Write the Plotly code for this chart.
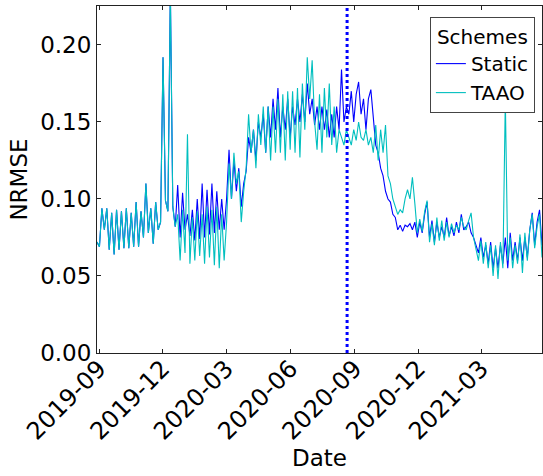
import pandas as pd
import plotly.graph_objects as go

# ---- data (semi-weekly samples) ----
start_date = "2019-08-29"
sample_step = "84h"  # 3.5 days
static_vals = [
    0.072, 0.069, 0.094, 0.080, 0.094, 0.067, 0.091, 0.064, 0.093, 0.067,
    0.092, 0.068, 0.094, 0.068, 0.091, 0.069, 0.098, 0.069, 0.092, 0.075,
    0.110, 0.078, 0.094, 0.071, 0.098, 0.080, 0.085, 0.192, 0.099, 0.092,
    0.235, 0.095, 0.082, 0.109, 0.075, 0.104, 0.080, 0.090, 0.076, 0.093,
    0.073, 0.100, 0.074, 0.110, 0.075, 0.106, 0.077, 0.110, 0.078, 0.105,
    0.080, 0.100, 0.080, 0.100, 0.132, 0.100, 0.125, 0.105, 0.120, 0.095,
    0.110, 0.118, 0.140, 0.130, 0.145, 0.125, 0.150, 0.140, 0.155, 0.130,
    0.160, 0.140, 0.165, 0.145, 0.172, 0.140, 0.160, 0.145, 0.165, 0.140,
    0.160, 0.148, 0.165, 0.150, 0.168, 0.150, 0.175, 0.155, 0.165, 0.148,
    0.160, 0.145, 0.160, 0.145, 0.158, 0.140, 0.155, 0.140, 0.160, 0.145,
    0.184, 0.150, 0.160, 0.155, 0.170, 0.150, 0.168, 0.176, 0.155, 0.165,
    0.145, 0.165, 0.171, 0.155, 0.135, 0.130, 0.120, 0.115, 0.105, 0.100,
    0.098, 0.090, 0.088, 0.080, 0.083, 0.079, 0.083, 0.082, 0.084, 0.080,
    0.085, 0.075, 0.085, 0.078, 0.090, 0.098, 0.075, 0.086, 0.072, 0.085,
    0.075, 0.082, 0.075, 0.088, 0.076, 0.082, 0.076, 0.085, 0.078, 0.090,
    0.080, 0.082, 0.085, 0.078, 0.075, 0.070, 0.065, 0.075, 0.062, 0.070,
    0.058, 0.072, 0.055, 0.068, 0.055, 0.070, 0.058, 0.075, 0.055, 0.078,
    0.060, 0.072, 0.060, 0.075, 0.060, 0.075, 0.062, 0.080, 0.091, 0.070,
    0.085, 0.093, 0.070,
]
taao_vals = [
    0.072, 0.069, 0.094, 0.080, 0.094, 0.067, 0.091, 0.064, 0.093, 0.067,
    0.092, 0.068, 0.094, 0.068, 0.091, 0.069, 0.098, 0.069, 0.092, 0.075,
    0.110, 0.078, 0.094, 0.071, 0.098, 0.080, 0.085, 0.192, 0.099, 0.092,
    0.235, 0.095, 0.082, 0.090, 0.060, 0.093, 0.065, 0.142, 0.058, 0.088,
    0.060, 0.092, 0.063, 0.090, 0.058, 0.095, 0.062, 0.093, 0.057, 0.095,
    0.055, 0.090, 0.060, 0.085, 0.123, 0.100, 0.130, 0.110, 0.118, 0.085,
    0.105, 0.120, 0.155, 0.130, 0.145, 0.120, 0.155, 0.135, 0.160, 0.130,
    0.160, 0.125, 0.160, 0.130, 0.165, 0.130, 0.168, 0.125, 0.170, 0.132,
    0.170, 0.130, 0.172, 0.127, 0.175, 0.145, 0.192, 0.165, 0.190, 0.150,
    0.132, 0.168, 0.130, 0.172, 0.140, 0.175, 0.135, 0.160, 0.130, 0.145,
    0.140, 0.135, 0.145, 0.140, 0.135, 0.145, 0.138, 0.150, 0.140, 0.138,
    0.145, 0.135, 0.140, 0.130, 0.148, 0.125, 0.145, 0.130, 0.148, 0.115,
    0.110, 0.100, 0.095, 0.090, 0.093, 0.091, 0.100, 0.106, 0.100, 0.114,
    0.097, 0.078, 0.087, 0.079, 0.092, 0.099, 0.072, 0.084, 0.070, 0.088,
    0.073, 0.086, 0.073, 0.085, 0.075, 0.084, 0.078, 0.083, 0.080, 0.088,
    0.082, 0.080, 0.086, 0.091, 0.075, 0.068, 0.060, 0.073, 0.058, 0.072,
    0.055, 0.070, 0.050, 0.070, 0.048, 0.072, 0.055, 0.165, 0.060, 0.075,
    0.055, 0.070, 0.058, 0.077, 0.052, 0.078, 0.060, 0.080, 0.090, 0.068,
    0.082, 0.090, 0.062,
]
event_date = "2020-08-21"
x_range = ["2019-08-29", "2021-05-27"]
y_range = [0, 0.2253]
series_names = ["Static", "TAAO"]
series_colors = ["#0000ff", "#00bfbf"]

dates = pd.date_range(start_date, periods=len(static_vals), freq=sample_step)

FONT = "DejaVu Sans"
fig = go.Figure()
for name, vals, col in zip(series_names, [static_vals, taao_vals], series_colors):
    fig.add_trace(go.Scatter(x=dates, y=vals, mode="lines", name=name,
                             line=dict(color=col, width=1.1)))

fig.add_shape(type="line", xref="x", yref="paper", x0=event_date, x1=event_date,
              y0=0, y1=1, line=dict(color="#0000ff", width=3, dash="dot"))

axis_common = dict(showline=True, linecolor="#222", linewidth=1, mirror="allticks",
                   ticks="inside", ticklen=4, tickcolor="#222", showgrid=False,
                   zeroline=False)

fig.update_layout(
    width=543, height=476,
    margin=dict(l=97, r=1, t=6, b=123),
    plot_bgcolor="white", paper_bgcolor="white",
    font=dict(family=FONT, color="black"),
    xaxis=dict(range=x_range, type="date", dtick="M3", tick0="2019-09-01",
               tickformat="%Y-%m", tickangle=-45, ticklabelstandoff=-9,
               tickfont=dict(family=FONT, size=24, color="black"),
               title=dict(text="Date", font=dict(family=FONT, size=23), standoff=4),
               **axis_common),
    yaxis=dict(range=y_range, dtick=0.05, tickformat=".2f",
               tickfont=dict(family=FONT, size=23, color="black"),
               title=dict(text="NRMSE", font=dict(family=FONT, size=23), standoff=6),
               **axis_common),
    legend=dict(x=0.984, y=0.968, xanchor="right", yanchor="top",
                bgcolor="white", bordercolor="#444", borderwidth=1,
                font=dict(family=FONT, size=20, color="black"),
                title=dict(text="Schemes", side="top center",
                           font=dict(family=FONT, size=20, color="black")),
                itemwidth=30, tracegroupgap=0),
    showlegend=True,
)

fig.write_html("out.html")
